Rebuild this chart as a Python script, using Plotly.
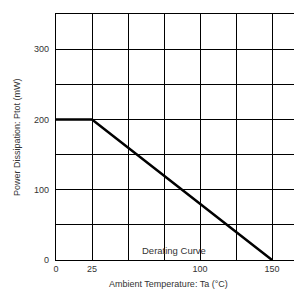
import plotly.graph_objects as go

temperature = [0, 25, 150]
power = [200, 200, 0]
x_tick_vals = [0, 25, 100, 150]
x_tick_text = ["0", "25", "100", "150"]
y_tick_vals = [0, 100, 200, 300]
y_tick_text = ["0", "100", "200", "300"]

font_family = "Liberation Sans, Arial, sans-serif"
text_color = "#333333"

# page body has an 8px default margin; figure is sized to compensate
fig = go.Figure()
fig.add_trace(go.Scatter(x=temperature, y=power, mode="lines",
                         line=dict(color="black", width=2.5),
                         showlegend=False, hoverinfo="skip", cliponaxis=False))

fig.update_layout(
    width=294, height=281,
    margin=dict(l=48, r=0, t=6, b=29),
    paper_bgcolor="white", plot_bgcolor="white",
    font=dict(family=font_family, size=9, color=text_color),
)
fig.update_xaxes(
    range=[0, 170.8], tickvals=x_tick_vals, ticktext=x_tick_text,
    showgrid=True, gridcolor="black", gridwidth=1.3,
    minor=dict(tick0=0, dtick=25, showgrid=True, gridcolor="black", gridwidth=1.3),
    showline=True, linecolor="black", linewidth=1.3, mirror=True,
    zeroline=False, ticks="", tickfont=dict(size=9, color=text_color),
    automargin=False, fixedrange=True,
)
fig.update_yaxes(
    range=[0, 350], tickvals=y_tick_vals, ticktext=y_tick_text,
    showgrid=True, gridcolor="black", gridwidth=1.3,
    minor=dict(tick0=0, dtick=50, showgrid=True, gridcolor="black", gridwidth=1.3),
    showline=True, linecolor="black", linewidth=1.3, mirror=False,
    zeroline=False, ticks="", tickfont=dict(size=9, color=text_color),
    ticklabelstandoff=4,
    automargin=False, fixedrange=True,
)

fig.add_annotation(text="Derating Curve", x=82, y=14, xref="x", yref="y",
                   showarrow=False, font=dict(size=9.5, color=text_color),
                   xanchor="center", yanchor="middle")
fig.add_annotation(text="Ambient Temperature: Ta (°C)", xref="paper", yref="paper",
                   x=(168 - 56) / 246, y=-(284 - 260) / 246,
                   xanchor="center", yanchor="middle", showarrow=False,
                   font=dict(size=9, color=text_color))
fig.add_annotation(text="Power Dissipation: Ptot (mW)", xref="paper", yref="paper",
                   x=-(56 - 17) / 246, y=(260 - 137) / 246, textangle=-90,
                   showarrow=False, xanchor="center", yanchor="middle",
                   font=dict(size=9, color=text_color))

fig.write_html("out.html")
